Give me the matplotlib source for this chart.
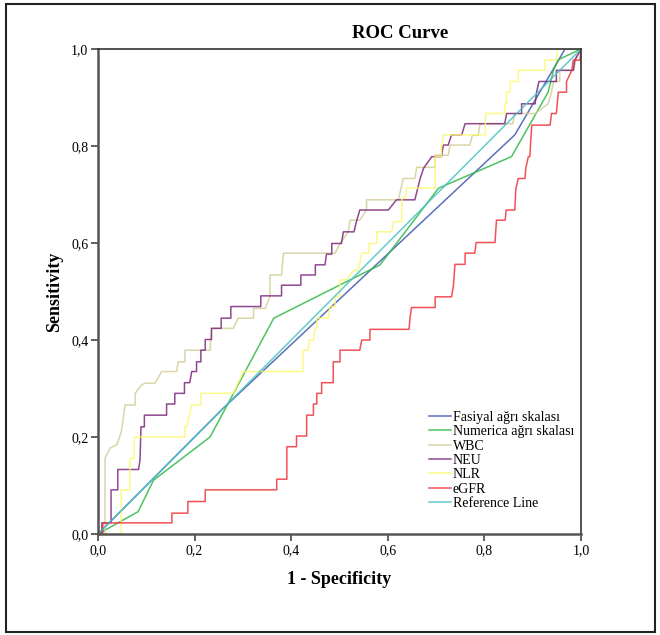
import matplotlib
matplotlib.use("Agg")
import matplotlib.pyplot as plt
from matplotlib.patches import Rectangle
from matplotlib.ticker import FuncFormatter

plt.rcParams['font.family'] = ['Liberation Serif', 'DejaVu Serif']

# ROC curve vertices (1 - specificity, sensitivity)
fasiyal_fpr = [0, 0.26, 0.863, 0.967, 1.0]
fasiyal_tpr = [0, 0.26, 0.823, 1.0, 1.0]

numerica_fpr = [0, 0.083, 0.115, 0.232, 0.364, 0.584, 0.705, 0.856, 0.932, 0.943, 0.953, 1.0]
numerica_tpr = [0, 0.046, 0.111, 0.200, 0.445, 0.555, 0.713, 0.778, 0.911, 0.956, 0.978, 1.0]

wbc_fpr = [0, 0.0145, 0.0145, 0.025, 0.039, 0.046, 0.049, 0.056, 0.077, 0.077, 0.09, 0.097,
           0.118, 0.132, 0.163, 0.166, 0.18, 0.18, 0.232, 0.235, 0.28, 0.29, 0.322, 0.322,
           0.346, 0.356, 0.356, 0.38, 0.384, 0.491, 0.501, 0.518, 0.522, 0.542, 0.556, 0.556,
           0.622, 0.632, 0.656, 0.66, 0.698, 0.698, 0.725, 0.729, 0.77, 0.775, 0.787, 0.791,
           0.859, 0.862, 0.905, 0.932, 0.939, 0.943, 0.956, 0.956, 0.985, 0.99, 1.0]
wbc_tpr = [0, 0, 0.156, 0.177, 0.184, 0.204, 0.214, 0.266, 0.266, 0.29, 0.307, 0.311,
           0.311, 0.335, 0.335, 0.355, 0.355, 0.379, 0.379, 0.424, 0.424, 0.445, 0.445, 0.465,
           0.465, 0.489, 0.534, 0.534, 0.579, 0.579, 0.599, 0.623, 0.647, 0.647, 0.668, 0.689,
           0.689, 0.733, 0.733, 0.756, 0.756, 0.781, 0.781, 0.802, 0.802, 0.822, 0.822, 0.846,
           0.846, 0.867, 0.867, 0.887, 0.911, 0.933, 0.933, 0.956, 0.956, 0.98, 1.0]

neu_fpr = [0, 0.008, 0.008, 0.027, 0.027, 0.041, 0.041, 0.084, 0.087, 0.089, 0.096, 0.096,
           0.142, 0.142, 0.159, 0.159, 0.179, 0.179, 0.19, 0.194, 0.204, 0.204, 0.213, 0.213,
           0.222, 0.222, 0.235, 0.235, 0.255, 0.255, 0.275, 0.275, 0.337, 0.337, 0.38, 0.38,
           0.42, 0.42, 0.45, 0.45, 0.47, 0.473, 0.484, 0.484, 0.504, 0.508, 0.53, 0.535,
           0.542, 0.601, 0.618, 0.656, 0.667, 0.674, 0.691, 0.711, 0.715, 0.725, 0.732, 0.753,
           0.76, 0.842, 0.846, 0.877, 0.877, 0.905, 0.908, 0.913, 0.949, 0.949, 0.984, 0.987, 1.0]
neu_tpr = [0, 0, 0.023, 0.023, 0.091, 0.091, 0.133, 0.133, 0.153, 0.221, 0.221, 0.245,
           0.245, 0.268, 0.268, 0.29, 0.29, 0.312, 0.312, 0.335, 0.335, 0.355, 0.355, 0.379,
           0.379, 0.401, 0.401, 0.424, 0.424, 0.445, 0.445, 0.469, 0.469, 0.491, 0.491, 0.513,
           0.513, 0.534, 0.534, 0.555, 0.555, 0.577, 0.577, 0.599, 0.599, 0.623, 0.623, 0.644,
           0.668, 0.668, 0.689, 0.689, 0.733, 0.754, 0.778, 0.778, 0.802, 0.802, 0.823, 0.823,
           0.846, 0.846, 0.867, 0.867, 0.887, 0.887, 0.911, 0.933, 0.933, 0.956, 0.956, 0.977, 1.0]

nlr_fpr = [0, 0.048, 0.048, 0.066, 0.066, 0.075, 0.075, 0.18, 0.18, 0.184, 0.194, 0.213,
           0.213, 0.28, 0.301, 0.425, 0.425, 0.435, 0.437, 0.446, 0.449, 0.453, 0.453, 0.477,
           0.48, 0.491, 0.491, 0.501, 0.501, 0.515, 0.529, 0.539, 0.546, 0.561, 0.561, 0.577,
           0.577, 0.608, 0.612, 0.629, 0.629, 0.636, 0.639, 0.698, 0.698, 0.711, 0.711, 0.713,
           0.715, 0.802, 0.802, 0.842, 0.842, 0.846, 0.846, 0.853, 0.853, 0.87, 0.87, 0.925,
           0.925, 0.949, 0.951, 1.0]
nlr_tpr = [0, 0, 0.091, 0.091, 0.156, 0.156, 0.2, 0.2, 0.221, 0.221, 0.266, 0.266,
           0.29, 0.29, 0.335, 0.335, 0.379, 0.379, 0.4, 0.4, 0.424, 0.424, 0.445, 0.445,
           0.469, 0.469, 0.49, 0.49, 0.524, 0.524, 0.544, 0.544, 0.579, 0.579, 0.599, 0.599,
           0.623, 0.623, 0.644, 0.644, 0.692, 0.692, 0.713, 0.713, 0.778, 0.778, 0.802, 0.802,
           0.823, 0.823, 0.867, 0.867, 0.887, 0.887, 0.911, 0.911, 0.933, 0.933, 0.956, 0.956,
           0.977, 0.977, 1.0, 1.0]

egfr_fpr = [0, 0.01, 0.01, 0.153, 0.153, 0.186, 0.186, 0.222, 0.222, 0.37, 0.37, 0.391,
            0.391, 0.411, 0.411, 0.432, 0.432, 0.446, 0.446, 0.453, 0.453, 0.463, 0.463, 0.487,
            0.487, 0.501, 0.501, 0.542, 0.546, 0.563, 0.563, 0.644, 0.646, 0.649, 0.698, 0.698,
            0.732, 0.736, 0.739, 0.76, 0.76, 0.78, 0.783, 0.822, 0.825, 0.843, 0.845, 0.863,
            0.865, 0.87, 0.884, 0.886, 0.891, 0.894, 0.898, 0.936, 0.939, 0.949, 0.953, 0.97,
            0.97, 0.981, 0.984, 0.998, 1.0]
egfr_tpr = [0, 0, 0.023, 0.023, 0.043, 0.043, 0.067, 0.067, 0.091, 0.091, 0.113, 0.113,
            0.18, 0.18, 0.202, 0.202, 0.245, 0.245, 0.268, 0.268, 0.29, 0.29, 0.312, 0.312,
            0.355, 0.355, 0.379, 0.379, 0.4, 0.4, 0.422, 0.422, 0.445, 0.467, 0.467, 0.489,
            0.489, 0.513, 0.556, 0.556, 0.579, 0.579, 0.601, 0.601, 0.647, 0.647, 0.668, 0.668,
            0.711, 0.733, 0.733, 0.756, 0.778, 0.778, 0.843, 0.843, 0.867, 0.867, 0.911, 0.911,
            0.933, 0.956, 0.977, 0.977, 1.0]

ref_fpr = [0, 1]
ref_tpr = [0, 1]

labels = ['Fasiyal ağrı skalası', 'Numerica ağrı skalası', 'WBC', 'NEU', 'NLR', 'eGFR',
          'Reference Line']
colors = ['#3E58AC', '#2EB848', '#D3CE97', '#7C287D', '#FBF873', '#EF3338', '#48C2C5']

curves = [(fasiyal_fpr, fasiyal_tpr), (numerica_fpr, numerica_tpr), (wbc_fpr, wbc_tpr),
          (neu_fpr, neu_tpr), (nlr_fpr, nlr_tpr), (egfr_fpr, egfr_tpr), (ref_fpr, ref_tpr)]

fig = plt.figure(figsize=(6.6, 6.35), dpi=100)
ax = fig.add_axes([98 / 660, 101 / 635, 483 / 660, 485 / 635])

for (x, y), lab, col in zip(curves, labels, colors):
    ax.plot(x, y, color=col, lw=1.1, alpha=0.85, label=lab)

ax.set_xlim(0, 1)
ax.set_ylim(0, 1)
ticks = [0, 0.2, 0.4, 0.6, 0.8, 1.0]
ax.set_xticks(ticks)
ax.set_yticks(ticks)
fmt = FuncFormatter(lambda v, p: f"{v:.1f}".replace('.', ','))
ax.xaxis.set_major_formatter(fmt)
ax.yaxis.set_major_formatter(fmt)
ax.tick_params(direction='out', length=5, width=1.2, color='#444444', labelsize=10, pad=2)

for side in ['left', 'bottom']:
    ax.spines[side].set_linewidth(1.8)
    ax.spines[side].set_color('#555555')
for side in ['top', 'right']:
    ax.spines[side].set_linewidth(1.2)
    ax.spines[side].set_color('#333333')

ax.set_xlabel('1 - Specificity', fontsize=13, fontweight='bold', labelpad=10)
ax.set_ylabel('Sensitivity', fontsize=13, fontweight='bold', labelpad=6)
fig.text(400 / 660, 1 - 33 / 635, 'ROC Curve', fontsize=13.5, fontweight='bold',
         ha='center', va='center')

leg = ax.legend(loc='lower left', bbox_to_anchor=(0.67, 0.035), frameon=False, fontsize=10,
                handlelength=1.6, handletextpad=0.15, labelspacing=0.1, borderpad=0)

fig.patches.append(Rectangle((6 / 660, 3 / 635), 649 / 660, 628 / 635, transform=fig.transFigure,
                             fill=False, lw=1.5, edgecolor='#222222'))

fig.savefig('out.png', dpi=100)
